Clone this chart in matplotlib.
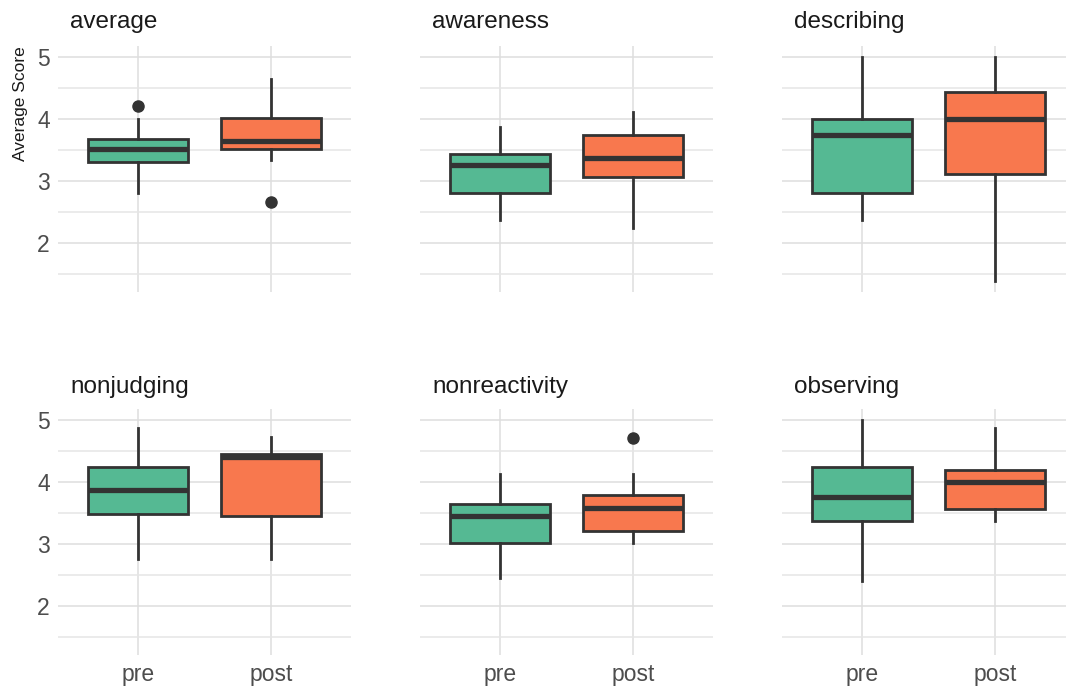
import matplotlib.pyplot as plt
import numpy as np

plt.rcParams['font.family'] = ['Liberation Sans', 'DejaVu Sans']

facets = ['average', 'awareness', 'describing', 'nonjudging', 'nonreactivity', 'observing']
groups = ['pre', 'post']

# five-number summaries per facet: [pre, post]
whisker_lo = [[2.80, 3.34], [2.38, 2.25], [2.38, 1.39], [2.76, 2.76], [2.45, 3.01], [2.40, 3.38]]
q1 = [[3.30, 3.52], [2.81, 3.07], [2.81, 3.12], [3.49, 3.45], [3.01, 3.21], [3.38, 3.57]]
median = [[3.52, 3.64], [3.26, 3.38], [3.75, 4.00], [3.88, 4.40], [3.45, 3.58], [3.76, 4.00]]
q3 = [[3.68, 4.02], [3.43, 3.75], [4.00, 4.44], [4.25, 4.45], [3.65, 3.79], [4.25, 4.20]]
whisker_hi = [[4.00, 4.64], [3.87, 4.12], [5.00, 5.00], [4.87, 4.73], [4.13, 4.13], [5.00, 4.87]]
outliers = [[[4.21], [2.67]], [[], []], [[], []], [[], []], [[], [4.71]], [[], []]]

colors = ['#55b993', '#f8784e']
edge = '#333333'

W, H = 1066, 688
fig = plt.figure(figsize=(W / 100, H / 100), dpi=100)

# panel boxes in pixels: left, top, width, height
lefts = [58, 420, 782]
tops = [46, 409]
title_y = [22, 387]
pw, ph = 293, 246

for i, name in enumerate(facets):
    row, col = divmod(i, 3)
    l, t = lefts[col], tops[row]
    ax = fig.add_axes([l / W, 1 - (t + ph) / H, pw / W, ph / H])

    stats = []
    for g in range(2):
        stats.append(dict(whislo=whisker_lo[i][g], q1=q1[i][g], med=median[i][g],
                          q3=q3[i][g], whishi=whisker_hi[i][g], fliers=outliers[i][g]))
    bp = ax.bxp(stats, positions=[1, 2], widths=0.75, patch_artist=True,
                showcaps=False, zorder=3,
                boxprops=dict(edgecolor=edge, linewidth=2.0),
                medianprops=dict(color=edge, linewidth=3.8, solid_capstyle='butt'),
                whiskerprops=dict(color=edge, linewidth=2.0),
                flierprops=dict(marker='o', markerfacecolor=edge, markeredgecolor=edge,
                                markersize=8))
    for patch, c in zip(bp['boxes'], colors):
        patch.set_facecolor(c)

    ax.set_xlim(0.4, 2.6)
    ax.set_ylim(1.21, 5.18)
    ax.set_yticks([2, 3, 4, 5])
    ax.set_yticks([1.5, 2.5, 3.5, 4.5], minor=True)
    ax.set_xticks([1, 2])
    ax.grid(True, which='major', color='#dedede', linewidth=1.1, zorder=0)
    ax.grid(True, which='minor', axis='y', color='#e6e6e6', linewidth=1.1, zorder=0)
    ax.set_axisbelow(True)
    for s in ax.spines.values():
        s.set_visible(False)
    ax.tick_params(which='both', length=0, labelsize=16.5, labelcolor='#4d4d4d', pad=6)
    if row == 1:
        ax.set_xticklabels(groups)
    else:
        ax.set_xticklabels([])
    if col != 0:
        ax.set_yticklabels([])

    fig.text((l + 12) / W, 1 - title_y[row] / H, name, fontsize=17.5,
             color='#1a1a1a', ha='left', va='center')

fig.text(20 / W, 1 - 104 / H, 'Average Score', rotation=90, fontsize=12.5,
         color='#1a1a1a', ha='center', va='center')

fig.savefig('out.png', dpi=100)
